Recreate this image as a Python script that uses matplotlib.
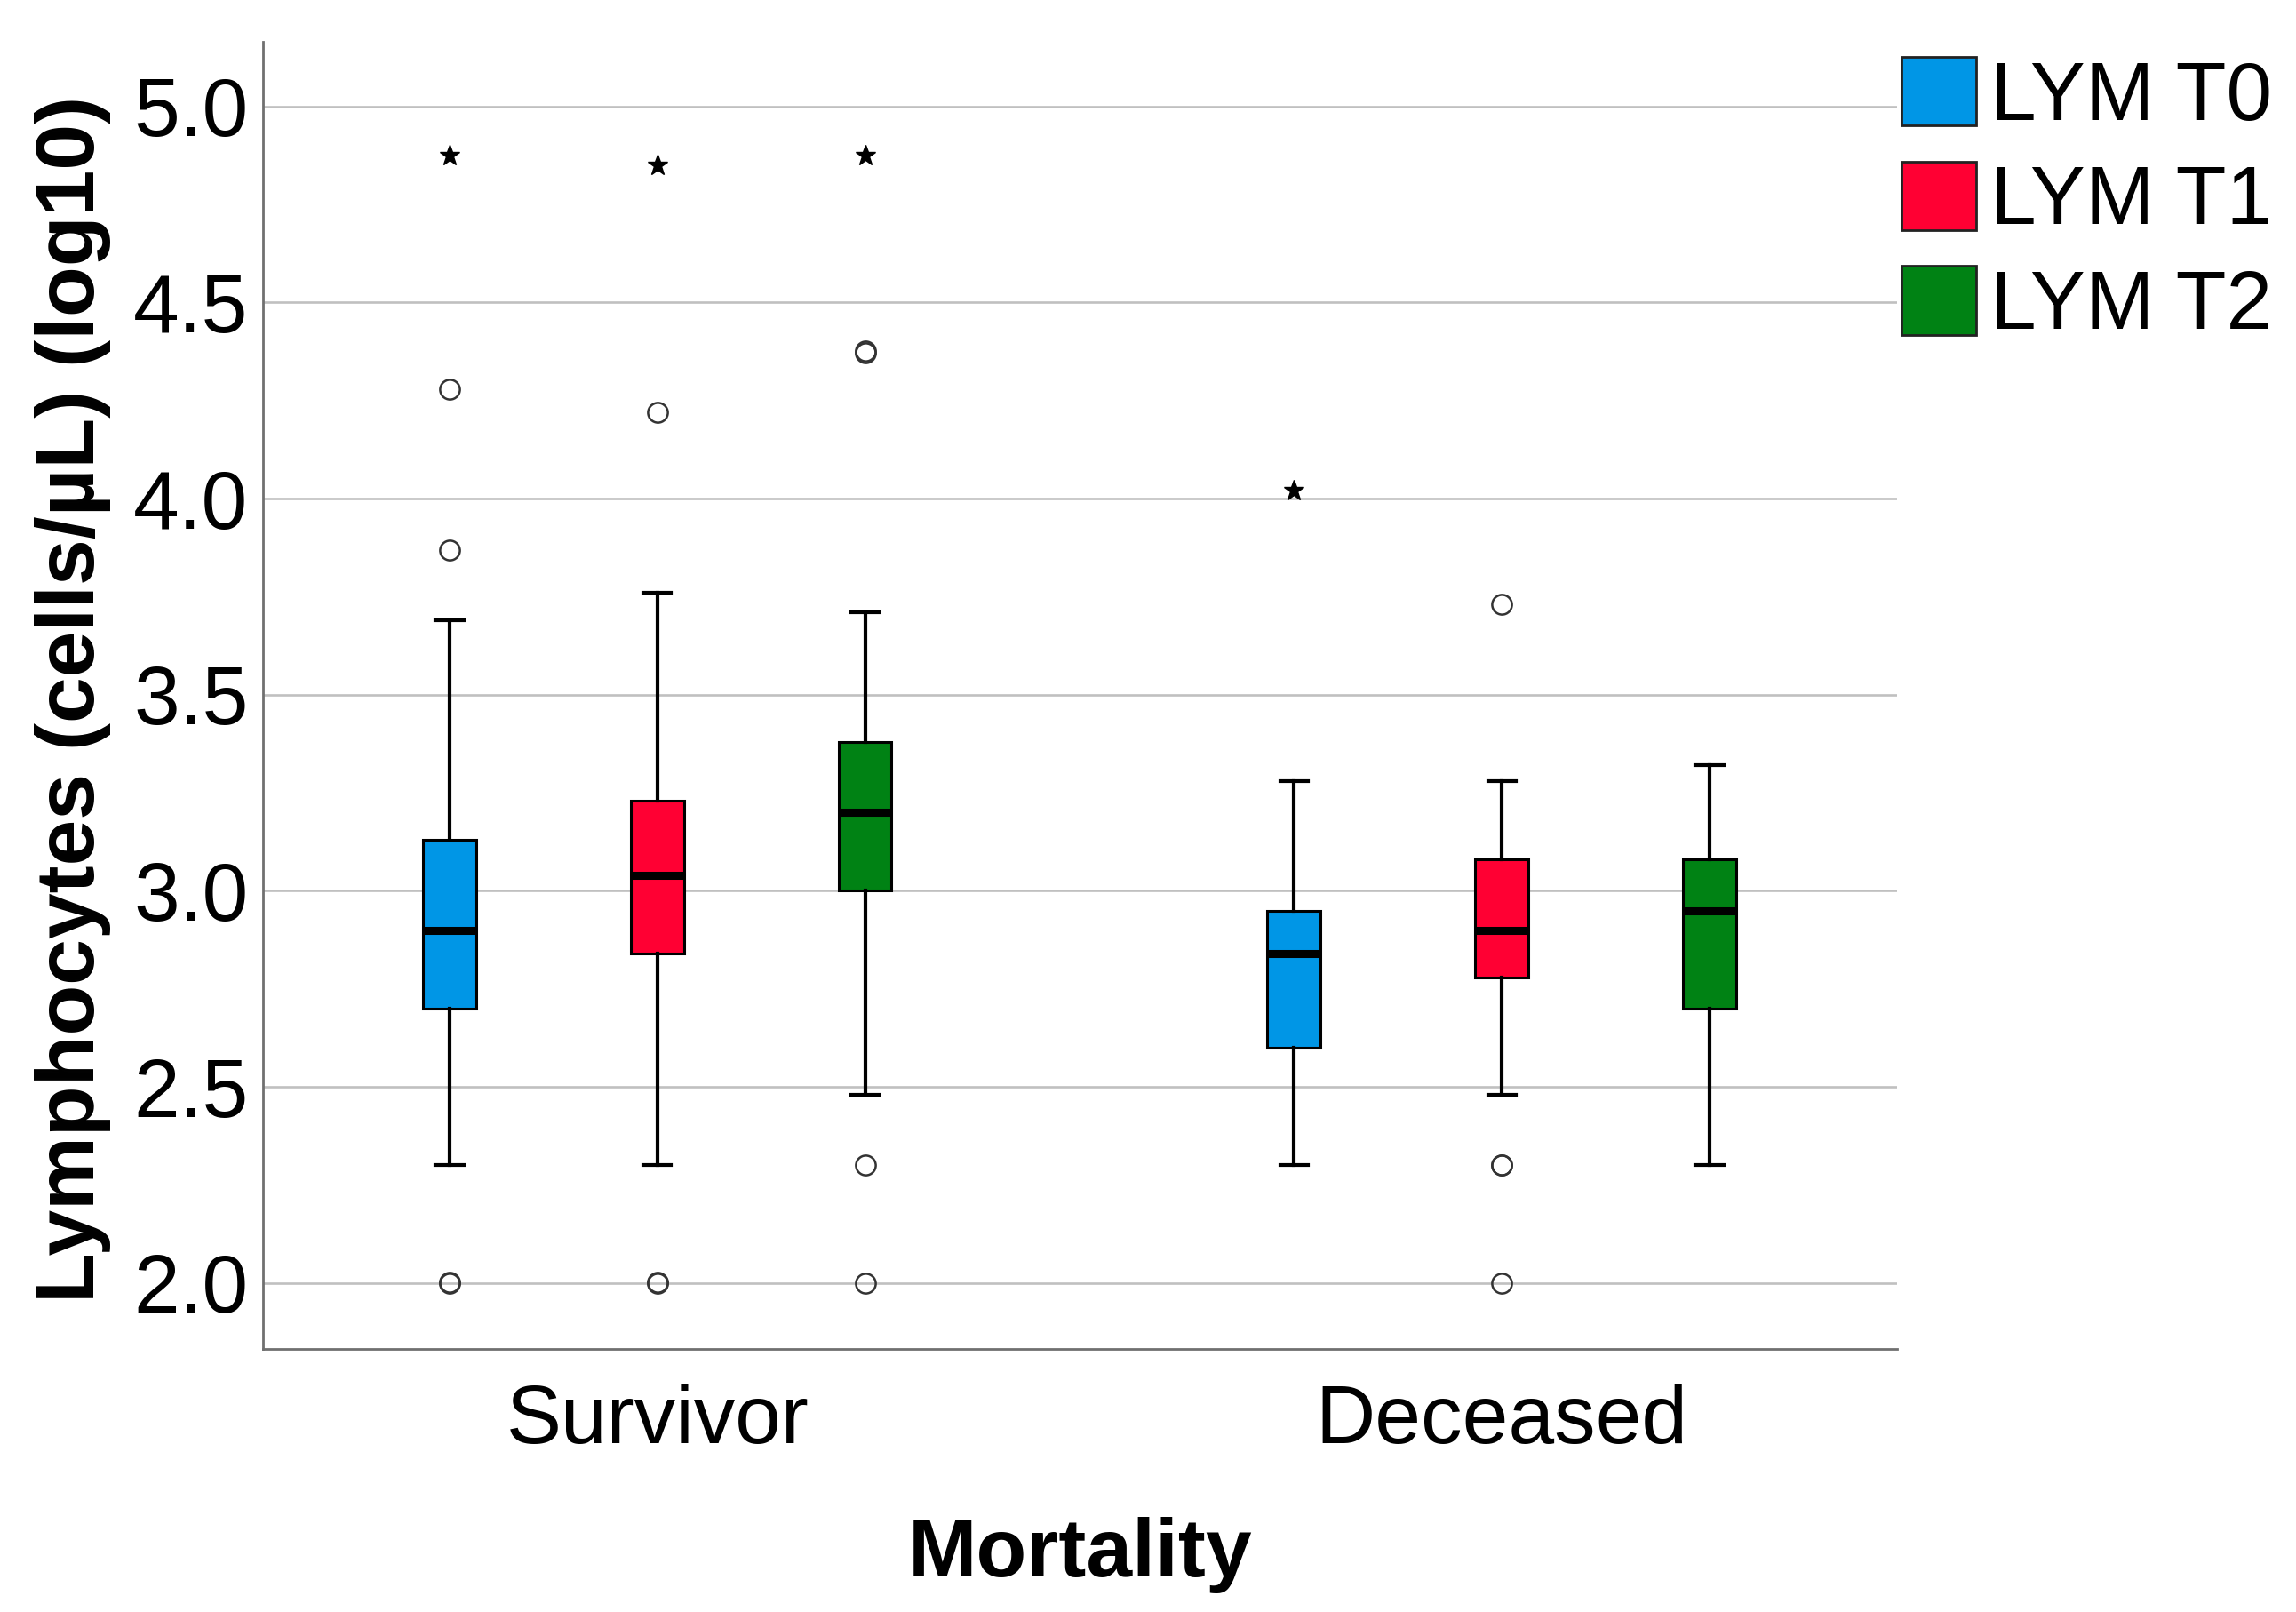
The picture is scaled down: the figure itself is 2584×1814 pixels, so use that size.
import matplotlib.pyplot as plt

plt.rcParams['font.family'] = ['Liberation Sans', 'DejaVu Sans']

groups = ['Survivor', 'Deceased']
series = ['LYM T0', 'LYM T1', 'LYM T2']
colors = ['#0096E6', '#FF0033', '#008214']

# per box: survivor T0, T1, T2, deceased T0, T1, T2
whislo = [2.30, 2.30, 2.48, 2.30, 2.48, 2.30]
q1 = [2.70, 2.84, 3.00, 2.60, 2.78, 2.70]
med = [2.90, 3.04, 3.20, 2.84, 2.90, 2.95]
q3 = [3.13, 3.23, 3.38, 2.95, 3.08, 3.08]
whishi = [3.69, 3.76, 3.71, 3.28, 3.28, 3.32]
# repeated values show up as heavier rings
circles = [[2.0, 2.002, 3.87, 4.28], [2.0, 2.002, 4.22], [2.0, 2.30, 4.372, 4.376],
           [], [2.0, 2.30, 2.302, 3.73], []]
stars = [[4.874], [4.85], [4.874], [4.02], [], []]

offset = 0.246
width = 0.063

fig = plt.figure(figsize=(25.84, 18.14), dpi=100)
ax = fig.add_axes([0.1146, 0.1632, 0.7117, 0.8109])

positions = []
for g in range(len(groups)):
    for s in range(len(series)):
        positions.append(g + (s - 1) * offset)

stats = []
for i in range(len(positions)):
    stats.append({'whislo': whislo[i], 'q1': q1[i], 'med': med[i],
                  'q3': q3[i], 'whishi': whishi[i], 'fliers': []})

bp = ax.bxp(stats, positions=positions, widths=width, patch_artist=True,
            showfliers=False, capwidths=0.033,
            boxprops=dict(edgecolor='black', linewidth=2.2),
            medianprops=dict(color='black', linewidth=6.5, solid_capstyle='butt'),
            whiskerprops=dict(color='black', linewidth=3),
            capprops=dict(color='black', linewidth=3))
for i, box in enumerate(bp['boxes']):
    box.set_facecolor(colors[i % 3])
    box.set_zorder(3)
for ln in bp['whiskers'] + bp['caps'] + bp['medians']:
    ln.set_zorder(3)

for i, x in enumerate(positions):
    if circles[i]:
        ax.plot([x] * len(circles[i]), circles[i], linestyle='none', marker='o',
                markersize=16, markerfacecolor='none', markeredgecolor='#333333',
                markeredgewidth=1.8, zorder=4)
    if stars[i]:
        ax.plot([x] * len(stars[i]), stars[i], linestyle='none', marker='*',
                markersize=17, color='black', zorder=4)

ax.set_xlim(-0.4666, 1.468)
ax.set_ylim(1.832, 5.165)
ax.set_yticks([2.0, 2.5, 3.0, 3.5, 4.0, 4.5, 5.0])
ax.set_yticklabels(['2.0', '2.5', '3.0', '3.5', '4.0', '4.5', '5.0'])
ax.set_xticks([0, 1])
ax.set_xticklabels(groups)
ax.tick_params(axis='both', length=0, labelsize=67)
ax.tick_params(axis='y', pad=12)
ax.tick_params(axis='x', pad=28)

ax.yaxis.grid(True, color='#C0C0C0', linewidth=1.9)
ax.set_axisbelow(True)
for side in ['top', 'right']:
    ax.spines[side].set_visible(False)
for side in ['left', 'bottom']:
    ax.spines[side].set_color('#707070')
    ax.spines[side].set_linewidth(2)

fig.text(82 / 2584, 0.566, 'Lymphocytes (cells/µL) (log10)', rotation=90,
         ha='center', va='center', fontsize=67, fontweight='bold')
fig.text(0.4703, 1 - 1750 / 1814, 'Mortality', ha='center', va='center',
         fontsize=67, fontweight='bold')

handles = [plt.Rectangle((0, 0), 1, 1, facecolor=c, edgecolor='#222222', linewidth=2)
           for c in colors]
fig.legend(handles, series, loc='upper left',
           bbox_to_anchor=(2140 / 2584, 1 - 64 / 1814), frameon=False,
           fontsize=67, handlelength=0.9, handleheight=0.9, handletextpad=0.18,
           labelspacing=0.3, borderpad=0, borderaxespad=0)

fig.savefig('out.png', dpi=100)
